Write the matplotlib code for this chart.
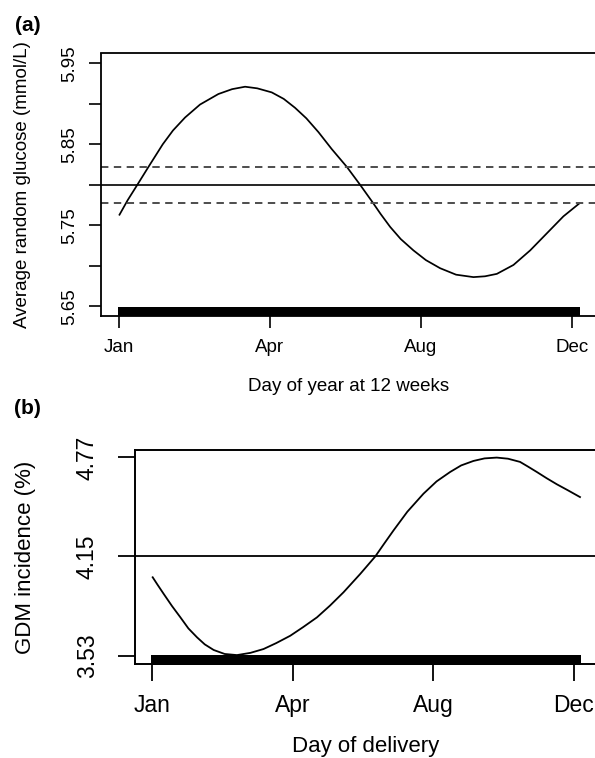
import numpy as np
import matplotlib
matplotlib.use("Agg")
import matplotlib.pyplot as plt

plt.rcParams["font.family"] = ["Liberation Sans", "DejaVu Sans"]

# ---------------------------------------------------------------------------
# Data
# ---------------------------------------------------------------------------
month_ticks = [0, 120, 240, 360]
month_labels = ["Jan", "Apr", "Aug", "Dec"]

# (a) average random glucose by day of year at 12 weeks
glu_day = [0.5, 7.0, 14.7, 23.5, 34.9, 43.0, 52.6, 64.5, 79.1, 90.0, 100.3,
           110.0, 121.5, 131.0, 140.0, 149.0, 158.6, 169.2, 181.2, 191.7,
           201.8, 208.0, 215.6, 224.0, 234.1, 244.0, 255.3, 268.0, 281.8,
           291.0, 300.4, 313.6, 326.9, 340.1, 353.3, 366.0]
glu_val = [5.763, 5.781, 5.800, 5.822, 5.850, 5.867, 5.883, 5.899, 5.912, 5.918, 5.921,
           5.919, 5.914, 5.906, 5.895, 5.882, 5.865, 5.844, 5.822, 5.800,
           5.778, 5.764, 5.748, 5.733, 5.719, 5.707, 5.697, 5.689, 5.686,
           5.687, 5.690, 5.701, 5.719, 5.740, 5.761, 5.777]
glu_mean = 5.800
glu_ci = [5.778, 5.822]
glu_yticks = [5.65, 5.70, 5.75, 5.80, 5.85, 5.90, 5.95]
glu_yticklabels = ["5.65", "", "5.75", "", "5.85", "", "5.95"]

# (b) GDM incidence by day of delivery
gdm_day = [0.5, 4.5, 9.9, 17.0, 24.2, 31.0, 38.4, 45.0, 52.6, 62.0, 72.5, 84.0,
           95.2, 106.0, 118.0, 129.0, 140.8, 152.0, 163.5, 177.8, 190.6, 198.0,
           206.2, 218.0, 231.8, 243.0, 254.6, 264.0, 274.5, 284.0, 294.4, 304.0,
           314.3, 321.0, 328.6, 337.0, 345.7, 355.0, 365.5]
gdm_val = [4.020, 3.975, 3.916, 3.840, 3.769, 3.700, 3.644, 3.600, 3.565, 3.540, 3.533, 3.547,
           3.571, 3.608, 3.654, 3.708, 3.769, 3.843, 3.926, 4.041, 4.150, 4.228,
           4.313, 4.430, 4.543, 4.620, 4.679, 4.720, 4.748, 4.764, 4.769, 4.762,
           4.742, 4.713, 4.679, 4.640, 4.602, 4.565, 4.522]
gdm_mean = 4.15
gdm_yticks = [3.53, 4.15, 4.77]

# observation days shown as rugs along the x axis
obs_days = list(range(1, 366))

XLIM = (-14.6, 379.6)

W, H = 595, 758
fig = plt.figure(figsize=(W / 100, H / 100), dpi=100)


def px_axes(left, top, right, bottom):
    return fig.add_axes([left / W, 1 - bottom / H, (right - left) / W, (bottom - top) / H])


def style_box(ax, lw):
    for s in ax.spines.values():
        s.set_linewidth(lw)
        s.set_color("black")


def rug(ax, days, lo, hi, lw):
    ax.vlines(days, lo, hi, transform=ax.get_xaxis_transform(), color="black",
              lw=lw, clip_on=False, capstyle="butt", antialiased=False)


# ---------------------------------------------------------------------------
# Panel (a)
# ---------------------------------------------------------------------------
ax1 = px_axes(100.5, 53.5, 596.5, 316)
ax1.plot(glu_day, glu_val, color="black", lw=1.25, solid_joinstyle="round")
ax1.axhline(glu_mean, color="black", lw=1.2)
for v in glu_ci:
    ax1.axhline(v, color="#4d4d4d", lw=1.4, ls=(0, (3.8, 2.8)))
rug(ax1, obs_days, 0, 0.033, 1.6)
ax1.set_xlim(*XLIM)
ax1.set_ylim(5.65 - 0.012, 5.95 + 0.012)
ax1.set_xticks(month_ticks)
ax1.set_xticklabels(month_labels, fontsize=13.5)
ax1.set_yticks(glu_yticks)
ax1.set_yticklabels(glu_yticklabels, fontsize=13.5, rotation=90, va="center", ha="center")
ax1.tick_params(axis="x", length=8.8, width=1.2, pad=7.5)
ax1.tick_params(axis="y", length=8.8, width=1.2, pad=13.7)
style_box(ax1, 1.3)

fig.text(348.5 / W, 1 - 391 / H, "Day of year at 12 weeks", fontsize=13.5,
         ha="center", va="baseline")
fig.text(22.5 / W, 1 - 185 / H, "Average random glucose (mmol/L)", fontsize=13.5,
         rotation=90, ha="center", va="center")
fig.text(15 / W, 1 - 16 / H, "(a)", fontsize=15, fontweight="bold", ha="left", va="top")

# ---------------------------------------------------------------------------
# Panel (b)
# ---------------------------------------------------------------------------
ax2 = px_axes(135, 449.5, 596.5, 663.5)
ax2.plot(gdm_day, gdm_val, color="black", lw=1.3, solid_joinstyle="round")
ax2.axhline(gdm_mean, color="black", lw=1.3)
rug(ax2, obs_days, -0.008, 0.040, 1.6)
ax2.set_xlim(*XLIM)
ax2.set_ylim(3.53 - 0.0496, 4.77 + 0.0496)
ax2.set_xticks(month_ticks)
ax2.set_xticklabels(month_labels, fontsize=16.5)
ax2.set_yticks(gdm_yticks)
ax2.set_yticklabels([f"{v:.2f}" for v in gdm_yticks], fontsize=16.5, rotation=90,
                    va="center", ha="center")
ax2.tick_params(axis="x", length=12.2, width=1.3, pad=9.5)
ax2.tick_params(axis="y", length=12.2, width=1.3, pad=22.0)
style_box(ax2, 1.4)

fig.text(365.75 / W, 1 - 752 / H, "Day of delivery", fontsize=16,
         ha="center", va="baseline")
fig.text(25.6 / W, 1 - 557 / H, "GDM incidence (%)", fontsize=16,
         rotation=90, ha="center", va="center")
fig.text(14 / W, 1 - 399 / H, "(b)", fontsize=15, fontweight="bold", ha="left", va="top")

fig.savefig("out.png", dpi=100)
